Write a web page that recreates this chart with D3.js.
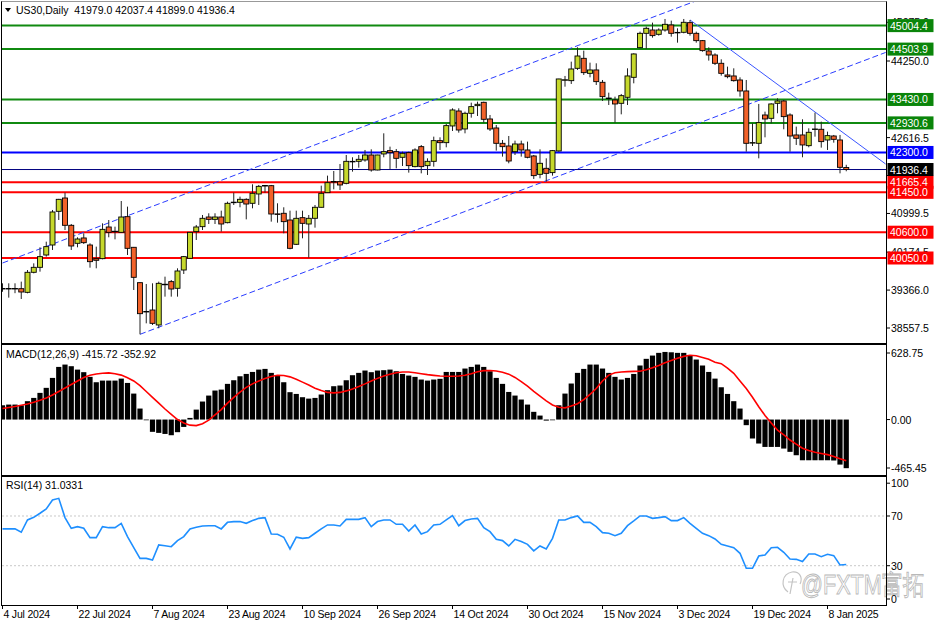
<!DOCTYPE html>
<html><head><meta charset="utf-8">
<script src="https://cdn.jsdelivr.net/npm/d3@7"></script>
<style>body{margin:0;background:#fff}svg{display:block}text{font-family:"Liberation Sans",Arial,sans-serif}</style>
</head><body><svg id="c" width="936" height="624"></svg>
<script>
// ---------------- DATA ----------------
const symbolTitle = "US30,Daily  41979.0 42037.4 41899.0 41936.4";
const macdTitle = "MACD(12,26,9) -415.72 -352.92";
const rsiTitle = "RSI(14) 31.0331";

const open = [39400,39395,39400,39396,39318,39745,39851,40114,40327,41045,41329,40747,40363,40477,40327,40036,40036,40711,40620,40597,
40931,40278,39524,38900,38941,38622,39489,39546,39404,39794,40043,40612,40718,40924,40874,40924,40803,41230,41237,41301,
41216,41415,41585,41592,40990,41003,40860,40342,40910,40775,40896,41131,41443,41675,41678,41642,42110,42111,42140,42246,
41926,42268,42339,42317,42197,42296,41998,42424,42019,42111,42552,42509,42865,43184,42801,43135,43298,43369,43014,42822,
42495,42438,42317,42481,42353,42225,41834,41962,41870,42332,43840,43831,44094,44307,43987,44059,43796,43460,43419,43348,
43476,43902,44535,44840,44911,44819,44911,45018,44850,44862,45068,44840,44684,44464,44378,44201,43952,43931,43845,43611,
42500,42495,43099,43028,43348,43398,43099,42673,42673,42445,42790,42794,42566,42651,42566,41979];
const high = [39510,39510,39510,39546,39794,39936,40278,40398,41074,41310,41443,40775,40491,40576,40363,40292,40789,40860,40718,41265,
41145,40285,39530,39496,39510,39546,39652,39581,39830,40093,40600,40754,40967,41003,41003,41059,41251,41443,41358,41322,
41621,41607,41607,41607,41216,41131,41059,41059,41059,40967,41180,41592,41806,41905,42054,42246,42197,42246,42353,42367,
42250,42708,42424,42374,42317,42317,42388,42459,42175,42637,42623,42907,43241,43241,43170,43362,43383,43383,43099,42886,
42566,42651,42552,42552,42531,42246,42367,42175,42353,43870,43931,44236,44542,44471,44215,44201,43845,43575,43490,43547,
44094,44414,44876,44983,45068,44947,45146,45110,44947,45146,45125,44876,44698,44542,44414,44286,44130,44094,43902,43845,
42921,43334,43170,43348,43454,43419,43135,42851,43007,42815,43149,42957,42744,42673,42673,42037.4];
const low = [39330,39205,39300,39176,39297,39723,39759,40079,40221,40860,40647,40221,40278,40349,39844,39830,40022,40491,40448,40590,
40114,39368,38423,38657,38622,38551,39226,39226,39226,39709,40040,40434,40647,40775,40775,40612,40789,41180,41131,40874,
41109,41180,41443,40825,40803,40576,40235,40327,40469,40057,40697,41125,41440,41514,41500,41621,41891,41976,42104,41891,
41920,42197,41948,41962,42012,41870,41983,41855,41820,41998,42353,42410,42758,42722,42708,43042,43078,42936,42758,42339,
42211,42069,42246,42211,42175,41735,41749,41678,41806,42317,43703,43760,44059,43952,43902,43739,43398,43312,42936,43113,
43312,43774,44520,44506,44748,44791,44876,44769,44641,44840,44791,44641,44449,44258,44165,43938,43881,43810,43490,42317,
42438,42175,42623,42921,43135,42794,42317,42460,42197,42410,42637,42403,42353,42509,41855,41899];
const close = [39395,39400,39390,39325,39745,39851,40079,40292,41031,41301,40747,40306,40455,40377,39972,40001,40661,40597,40610,40924,
40256,39638,38863,38910,38657,39510,39490,39389,39773,40079,40597,40711,40896,40874,40924,40775,41216,41240,41301,41201,
41429,41578,41595,40988,40985,40825,40256,40896,40789,40896,41131,41429,41656,41680,41607,42111,42105,42154,42246,41926,
42246,42317,42296,42175,42282,42019,42353,41998,42111,42552,42509,42872,43206,42779,43135,43277,43327,43007,42801,42495,
42424,42118,42481,42353,42197,41806,42069,41855,42339,43867,43850,44080,44357,44002,44059,43810,43490,43450,43334,43511,
43931,44400,44840,44947,44791,44911,45032,44840,44860,45075,44840,44684,44471,44378,44201,43987,43916,43831,43611,42495,
42510,42936,43014,43334,43398,43064,42651,42602,42460,42730,42800,42531,42659,42580,41983,41936.4];

const macd = [122,128,128,122,157,185,228,271,356,450,470,456,427,405,365,319,333,333,333,350,
313,222,94,-6,-105,-114,-123,-134,-108,-63,14,85,154,205,248,256,305,336,370,390,
407,427,433,399,376,319,234,219,191,179,185,214,251,285,291,336,379,399,419,405,
419,422,427,413,390,376,365,342,333,342,348,407,407,407,436,450,470,450,413,356,
305,236,205,171,128,66,34,-9,-6,122,222,308,399,433,470,470,436,399,365,342,
356,390,462,519,547,570,578,575,570,570,547,513,462,407,350,276,219,157,94,-48,
-162,-205,-234,-234,-234,-248,-276,-305,-348,-348,-348,-348,-348,-350,-385,-415.72];
const signal = [94,103,112,122,133,148,165,185,210,240,270,300,330,360,378,390,396,399,392,380,
358,330,290,240,190,140,90,45,0,-30,-48,-52,-35,-5,40,85,140,190,235,275,
305,330,350,368,378,376,365,345,320,295,268,248,232,228,232,245,262,282,305,330,
352,372,388,400,406,406,400,392,384,378,372,370,370,372,378,392,408,418,419,415,
405,388,360,325,285,240,200,160,125,105,100,115,135,170,215,265,330,380,400,407,
410,412,413,425,442,462,486,505,525,540,550,545,530,515,490,478,440,395,330,265,
190,110,35,-30,-90,-130,-175,-210,-245,-265,-280,-290,-300,-315,-335,-352.92];
const rsi = [59.6,59.6,59.6,56.9,66.8,68.9,72.2,75.7,82.9,84.2,68.7,60.1,61.4,60.1,52.6,52.6,61.4,60.6,60.6,64.1,
53.4,44.5,35.9,35.9,34.6,46.7,46.1,45.3,50.2,53.4,59.6,60.9,62.0,62.2,62.2,59.6,64.9,65.5,65.5,64.1,
66.3,68.1,68.7,55.5,55.3,52.9,43.5,52.9,52.0,52.6,56.1,59.6,62.8,62.8,62.0,67.3,67.3,67.3,68.7,61.4,
65.5,66.8,66.8,63.3,63.3,57.9,62.8,55.5,57.4,62.8,63.3,66.8,70.3,62.2,66.3,67.6,68.1,60.6,57.4,51.2,
50.2,45.9,51.2,49.4,47.2,41.9,45.9,43.5,52.0,66.8,66.8,68.7,70.0,64.9,64.9,61.4,56.6,56.1,54.2,56.1,
62.2,66.0,70.0,70.0,68.1,68.7,69.5,66.3,66.3,68.7,64.1,60.1,56.1,54.2,51.5,47.2,45.9,44.5,40.0,27.9,
27.9,37.8,38.6,44.5,44.8,40.8,35.4,35.1,33.3,39.4,39.4,37.3,39.2,38.1,30.6,31.03];

const dateLabels = ["4 Jul 2024","22 Jul 2024","7 Aug 2024","23 Aug 2024","10 Sep 2024","26 Sep 2024","14 Oct 2024",
"30 Oct 2024","15 Nov 2024","3 Dec 2024","19 Dec 2024","8 Jan 2025"];
const dateBarIndex = [0,12,24,36,48,60,72,84,96,108,120,132];

const priceTicks = [45075.0,44250.0,42616.5,41808.0,40999.5,40174.5,39366.0,38557.5];
const greenLevels = [45004.4,44503.9,43430.0,42930.6];
const blueLevels = [42300.0];
const redLevels = [41665.4,41450.0,40600.0,40050.0];
const currentPrice = 41936.4;

const macdTicks = [628.75,0.00,-465.45];
const macdTickLabels = ["628.75","0.00","-465.45"];
const rsiTicks = [100,70,30,0];
const rsiLevels = [70,30];

// trend lines as [bar index, price] anchors
const upperChannel = [[0,39943],[141.3,47060]];
const lowerChannel = [[22,38423],[141.3,44432]];
const downTrend = [[110,45125],[141.3,42054]];

// ---------------- LAYOUT ----------------
const L = 2, R = 886;
const main = {t:2, b:343}, mp = {t:345, b:475}, rp = {t:477, b:605};
const svg = d3.select("#c");
svg.append("rect").attr("width",936).attr("height",624).attr("fill","#fff");

const x = d3.scaleLinear().domain([0,135]).range([2.5,846.25]);
const yP = d3.scaleLinear().domain([38557.5,44250]).range([328,61]);
const yM = d3.scaleLinear().domain([-465.45,628.75]).range([474,346]);
const yR = d3.scaleLinear().domain([0,100]).range([603,478.7]);

const defs = svg.append("defs");
function clip(id,p){defs.append("clipPath").attr("id",id).append("rect").attr("x",L).attr("y",p.t).attr("width",R-L).attr("height",p.b-p.t);}
clip("cm",main);clip("cmacd",mp);clip("crsi",rp);

const gMain = svg.append("g").attr("clip-path","url(#cm)");
const gMacd = svg.append("g").attr("clip-path","url(#cmacd)");
const gRsi = svg.append("g").attr("clip-path","url(#crsi)");

// horizontal levels
function hline(g,v,col,w){g.append("line").attr("x1",L).attr("x2",R).attr("y1",yP(v)).attr("y2",yP(v)).attr("stroke",col).attr("stroke-width",w);}
greenLevels.forEach(v=>hline(gMain,v,"#108a10",2));
blueLevels.forEach(v=>hline(gMain,v,"#0000ff",2));
redLevels.forEach(v=>hline(gMain,v,"#ff0000",2));
hline(gMain,currentPrice,"#000080",1);

// trend lines
const tl = d3.line().x(d=>x(d[0])).y(d=>yP(d[1]));
gMain.append("path").attr("d",tl(upperChannel)).attr("fill","none").attr("stroke","#2a3cff").attr("stroke-width",1).attr("stroke-dasharray","6,3");
gMain.append("path").attr("d",tl(lowerChannel)).attr("fill","none").attr("stroke","#2a3cff").attr("stroke-width",1).attr("stroke-dasharray","6,3");
gMain.append("path").attr("d",tl(downTrend)).attr("fill","none").attr("stroke","#3a55ff").attr("stroke-width",1);

// candles
const idx = d3.range(open.length);
gMain.selectAll(".wick").data(idx).enter().append("line")
  .attr("x1",i=>x(i)).attr("x2",i=>x(i)).attr("y1",i=>yP(high[i])).attr("y2",i=>yP(low[i]))
  .attr("stroke","#222").attr("stroke-width",1);
gMain.selectAll(".body").data(idx).enter().append("rect")
  .attr("x",i=>x(i)-2.5).attr("width",5)
  .attr("y",i=>yP(Math.max(open[i],close[i])))
  .attr("height",i=>Math.max(0.5,Math.abs(yP(open[i])-yP(close[i]))))
  .attr("fill",i=>close[i]>=open[i]?"#c6d82c":"#f2622a")
  .attr("stroke","#000").attr("stroke-width",0.9);

// MACD
gMacd.selectAll(".h").data(idx).enter().append("rect")
  .attr("x",i=>x(i)-2.6).attr("width",5.2)
  .attr("y",i=>yM(Math.max(0,macd[i])))
  .attr("height",i=>Math.abs(yM(macd[i])-yM(0)))
  .attr("fill","#000");
gMacd.append("path").attr("d",d3.line().x(i=>x(i)).y(i=>yM(signal[i]))(idx))
  .attr("fill","none").attr("stroke","#ff0000").attr("stroke-width",1.6);

// RSI
rsiLevels.forEach(v=>gRsi.append("line").attr("x1",L).attr("x2",R).attr("y1",yR(v)).attr("y2",yR(v))
  .attr("stroke","#c8c8c8").attr("stroke-width",1).attr("stroke-dasharray","2,2"));
gRsi.append("path").attr("d",d3.line().x(i=>x(i)).y(i=>yR(rsi[i]))(idx))
  .attr("fill","none").attr("stroke","#1e8fff").attr("stroke-width",1.6);

// watermark
const wm = svg.append("g");
wm.append("path").attr("d","M788,592 C780,586 782,574 792,572 C800,571 803,578 800,584 M793,578 L790,594 M788,582 L797,582")
  .attr("fill","none").attr("stroke","#c4c4c4").attr("stroke-width",1.2);
wm.append("text").attr("x",801).attr("y",594).attr("font-family","'Noto Sans CJK SC','DejaVu Sans',sans-serif")
  .attr("font-size",27).attr("textLength",124).attr("lengthAdjust","spacingAndGlyphs")
  .attr("fill","#fff").attr("stroke","#b8b8b8").attr("stroke-width",0.9).text("@FXTM富拓");

// frames
[main,mp,rp].forEach(p=>svg.append("rect").attr("x",L-0.5).attr("y",p.t-0.5).attr("width",R-L+1).attr("height",p.b-p.t+1)
  .attr("fill","none").attr("stroke","#000").attr("stroke-width",1));
svg.append("line").attr("x1",L-0.5).attr("x2",R+0.5).attr("y1",1.5).attr("y2",1.5).attr("stroke","#999");

// price axis
const ax = svg.append("g").attr("font-size",10.5);
priceTicks.forEach(v=>{
  ax.append("line").attr("x1",R).attr("x2",R+4).attr("y1",yP(v)).attr("y2",yP(v)).attr("stroke","#000");
  ax.append("text").attr("x",R+5).attr("y",yP(v)+4).attr("fill","#000").text(v.toFixed(1));
});
function tag(v,col){
  ax.append("rect").attr("x",R+1.5).attr("y",yP(v)-6.5).attr("width",46).attr("height",13).attr("fill",col);
  ax.append("text").attr("x",R+4).attr("y",yP(v)+4).attr("fill","#fff").text(v.toFixed(1));
}
greenLevels.forEach(v=>tag(v,"#0a850a"));
blueLevels.forEach(v=>tag(v,"#0000ff"));
redLevels.forEach(v=>tag(v,"#ff0000"));
tag(currentPrice,"#000");

// MACD axis
macdTicks.forEach((v,k)=>{
  const yy = k===0? yM(v)+7 : (k===2? yM(v)-6 : yM(v));
  ax.append("line").attr("x1",R).attr("x2",R+4).attr("y1",yy).attr("y2",yy).attr("stroke","#000");
  ax.append("text").attr("x",R+5).attr("y",yy+4).text(macdTickLabels[k]);
});
// RSI axis
rsiTicks.forEach(v=>{
  const yy = v===100? yR(v)+4.5 : (v===0? yR(v)-4 : yR(v));
  ax.append("line").attr("x1",R).attr("x2",R+4).attr("y1",yy).attr("y2",yy).attr("stroke","#000");
  ax.append("text").attr("x",R+5).attr("y",yy+4).text(String(v));
});

// date axis
dateBarIndex.forEach((b,k)=>{
  const xx = Math.round(x(b)-0.5)+0.5;
  ax.append("line").attr("x1",xx).attr("x2",xx).attr("y1",rp.b).attr("y2",rp.b+4).attr("stroke","#000");
  ax.append("text").attr("x",xx+1).attr("y",618).attr("letter-spacing",-0.2).text(dateLabels[k]);
});

// titles
svg.append("path").attr("d","M5,8 L11,8 L8,12 Z").attr("fill","#000");
svg.append("text").attr("x",16).attr("y",14).attr("font-size",10.5).attr("xml:space","preserve").style("white-space","pre").text(symbolTitle);
svg.append("text").attr("x",6).attr("y",358).attr("font-size",10.5).text(macdTitle);
svg.append("text").attr("x",6).attr("y",489).attr("font-size",10.5).text(rsiTitle);
</script></body></html>
